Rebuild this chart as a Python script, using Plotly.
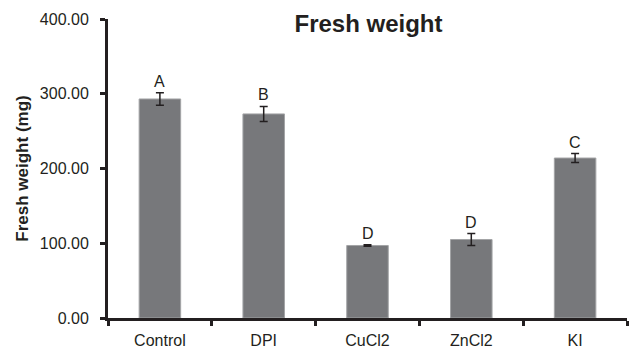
import plotly.graph_objects as go

categories = ["Control", "DPI", "CuCl2", "ZnCl2", "KI"]
means = [293, 273, 97, 105, 214]
errors = [8.5, 10, 1, 8, 6]
letters = ["A", "B", "D", "D", "C"]
y_ticks = [0, 100, 200, 300, 400]
y_tick_labels = ["0.00", "100.00", "200.00", "300.00", "400.00"]

fig = go.Figure()
fig.add_trace(go.Bar(
    x=categories, y=means,
    marker=dict(color="#77787b", line=dict(color="#a3a4a6", width=1)),
    width=0.4,
    error_y=dict(type="data", array=errors, visible=True, color="#231f20",
                 thickness=1.5, width=4),
))

for c, m, e, l in zip(categories, means, errors, letters):
    fig.add_annotation(x=c, y=m + e, text=l, showarrow=False, yanchor="bottom",
                       yshift=1, font=dict(family="Liberation Sans, Arial", size=16, color="#231f20"))

fig.update_layout(
    width=629, height=351,
    margin=dict(l=108, r=2, t=19, b=31),
    paper_bgcolor="white", plot_bgcolor="white",
    showlegend=False,
    title=dict(text="<b>Fresh weight</b>", x=368.5/629, xanchor="center",
               y=1 - 24/351, yanchor="middle",
               font=dict(family="Liberation Sans, Arial", size=24, color="#231f20")),
    font=dict(family="Liberation Sans, Arial", color="#231f20"),
)
fig.update_xaxes(
    showline=True, linecolor="#231f20", linewidth=3,
    ticks="outside", tickson="boundaries", ticklen=5, tickwidth=3, tickcolor="#231f20",
    ticklabelstandoff=6,
    tickfont=dict(size=16, color="#231f20"), showgrid=False,
)
fig.update_yaxes(
    range=[0, 400], tickvals=y_ticks, ticktext=y_tick_labels,
    showline=True, linecolor="#231f20", linewidth=3,
    ticks="outside", ticklen=5, tickwidth=3, tickcolor="#231f20",
    ticklabelstandoff=8,
    tickfont=dict(size=16, color="#231f20"), showgrid=False, zeroline=False,
    title=dict(text="<b>Fresh weight (mg)</b>", font=dict(size=17, color="#231f20"), standoff=7),
)

fig.write_html("out.html")
